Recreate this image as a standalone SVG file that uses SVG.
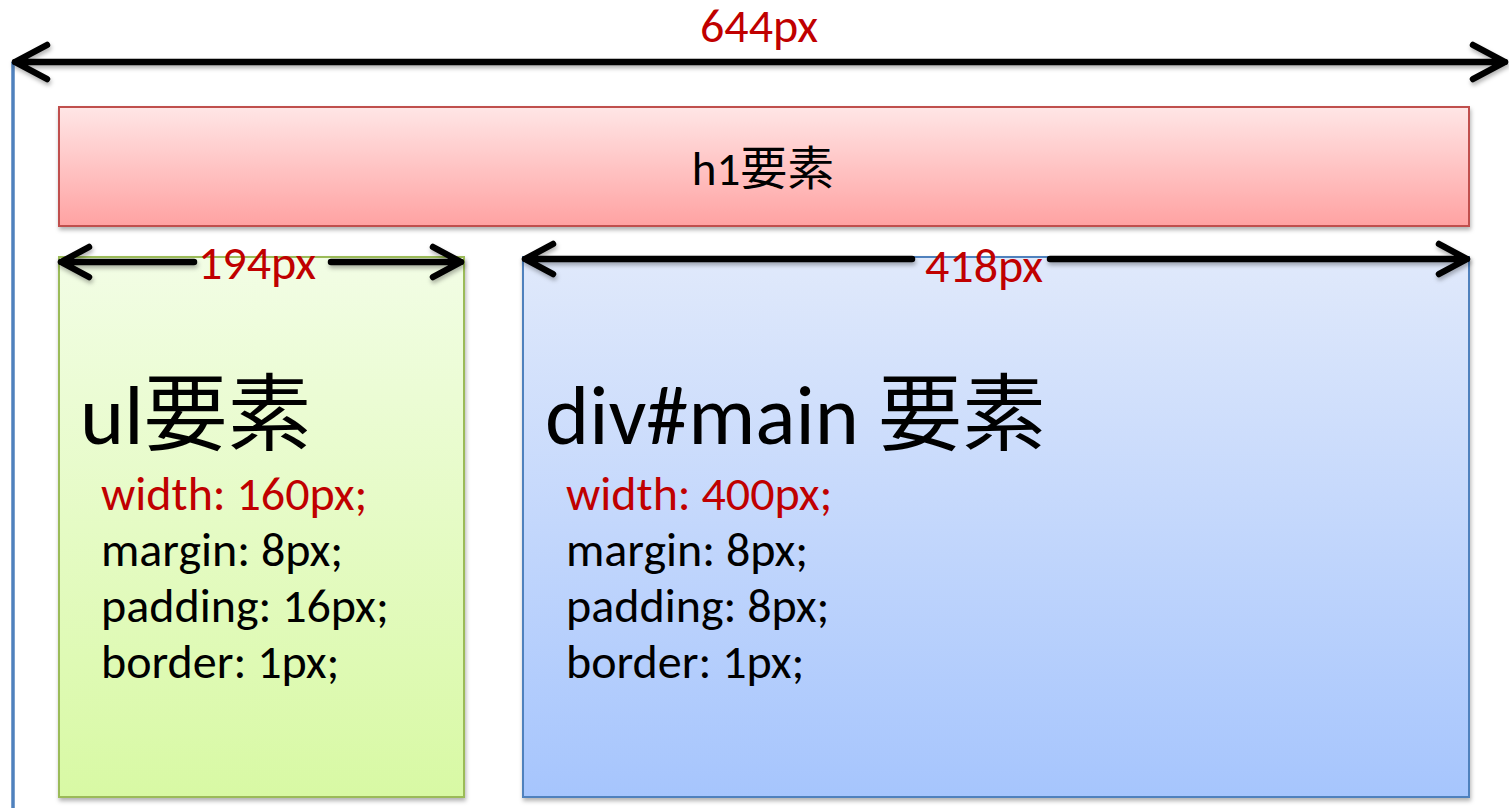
<svg xmlns="http://www.w3.org/2000/svg" width="1509" height="808" viewBox="0 0 1509 808">
<defs>
<linearGradient id="gRed" x1="0" y1="0" x2="0" y2="1"><stop offset="0" stop-color="#FFE6E6"/><stop offset="1" stop-color="#FFA2A2"/></linearGradient>
<linearGradient id="gGreen" x1="0" y1="0" x2="0" y2="1"><stop offset="0" stop-color="#F2FDE5"/><stop offset="1" stop-color="#D8F9A4"/></linearGradient>
<linearGradient id="gBlue" x1="0" y1="0" x2="0" y2="1"><stop offset="0" stop-color="#E0E9FB"/><stop offset="1" stop-color="#A6C5FD"/></linearGradient>
<filter id="sh" x="-5%" y="-5%" width="110%" height="115%"><feDropShadow dx="1" dy="3" stdDeviation="2" flood-color="#000" flood-opacity="0.3"/></filter>
</defs>
<style>
.t{font-family:Carlito,"Noto Sans","Noto Sans CJK JP",sans-serif}
.red{fill:#C00000}
.blk{fill:#000}
.body{font-size:48px}
.big{font-size:84px}
.lbl{font-size:48px;text-anchor:middle}
.arr{stroke:#000;stroke-width:6.5;fill:none;stroke-linecap:round;stroke-linejoin:round}
</style>
<rect width="1509" height="808" fill="#fff"/>
<line x1="13" y1="62" x2="13" y2="808" stroke="#4F81BD" stroke-width="3.5"/>
<g id="h1">
<rect x="59" y="107" width="1410" height="119" fill="url(#gRed)" stroke="#C0504D" stroke-width="2" filter="url(#sh)"/>
<text class="t blk" x="763" y="185" font-size="47" text-anchor="middle">h1要素</text>
</g>
<g id="ul">
<rect x="59" y="257" width="405" height="540" fill="url(#gGreen)" stroke="#9BBB59" stroke-width="2" filter="url(#sh)"/>
<text class="t blk big" x="80" y="444">ul要素</text>
<text class="t red body" x="101" y="510">width: 160px;</text>
<text class="t blk body" x="101" y="566">margin: 8px;</text>
<text class="t blk body" x="101" y="622">padding: 16px;</text>
<text class="t blk body" x="101" y="678">border: 1px;</text>
</g>
<g id="main">
<rect x="523" y="257" width="946" height="540" fill="url(#gBlue)" stroke="#4F81BD" stroke-width="2" filter="url(#sh)"/>
<text class="t blk big" x="545" y="444">div#main 要素</text>
<text class="t red body" x="566" y="510">width: 400px;</text>
<text class="t blk body" x="566" y="566">margin: 8px;</text>
<text class="t blk body" x="566" y="622">padding: 8px;</text>
<text class="t blk body" x="566" y="678">border: 1px;</text>
</g>
<g id="connectors" filter="url(#sh)">
<path class="arr" d="M15 62 H1505 M47 45 L15 62 L47 79 M1473 45 L1505 62 L1473 79"/>
<path class="arr" d="M61 262 H194 M331 262 H461 M89 247 L61 262 L89 277 M433 247 L461 262 L433 277"/>
<path class="arr" d="M525 259 H912 M1050 259 H1467 M553 244 L525 259 L553 274 M1439 244 L1467 259 L1439 274"/>
</g>
<g id="labels">
<text class="t red lbl" x="759" y="42">644px</text>
<text class="t red lbl" x="257" y="279">194px</text>
<text class="t red lbl" x="984" y="282">418px</text>
</g>
</svg>
